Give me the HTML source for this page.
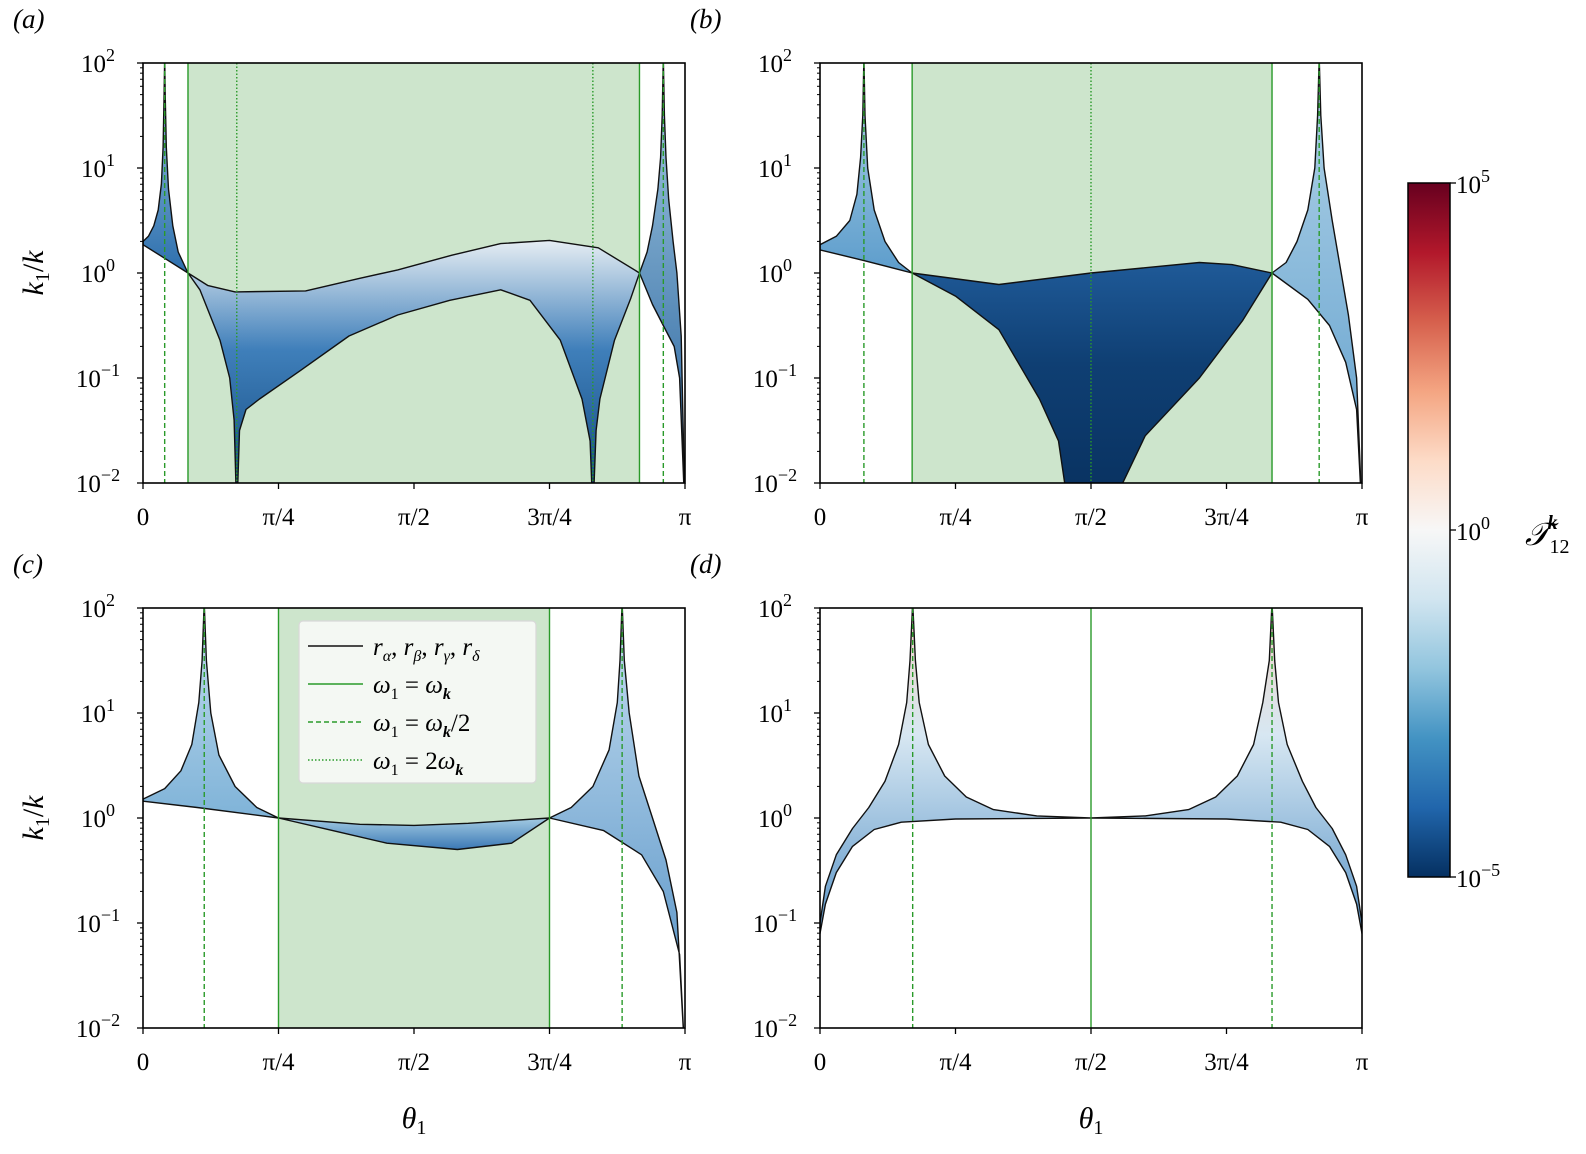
<!DOCTYPE html>
<html><head><meta charset="utf-8"><style>
body{margin:0;background:#fff;}
svg{display:block;font-family:"Liberation Serif",serif;}
</style></head><body>
<svg id="fig" width="1586" height="1154" viewBox="0 0 1586 1154" xmlns="http://www.w3.org/2000/svg">
<defs>
<linearGradient id="cbar" x1="0" y1="0" x2="0" y2="1">
<stop offset="0" stop-color="#67001f"/><stop offset="0.1" stop-color="#b2182b"/><stop offset="0.2" stop-color="#d6604d"/><stop offset="0.3" stop-color="#f4a582"/><stop offset="0.4" stop-color="#fddbc7"/><stop offset="0.5" stop-color="#f7f7f7"/><stop offset="0.6" stop-color="#d1e5f0"/><stop offset="0.7" stop-color="#92c5de"/><stop offset="0.8" stop-color="#4393c3"/><stop offset="0.9" stop-color="#2166ac"/><stop offset="1" stop-color="#053061"/>
</linearGradient>
</defs>
<g id="root"></g>
</svg>
<script>
// ---- data: theta in units of pi, values are log10(k1/k) ----
const xTickLabels = ["0","π/4","π/2","3π/4","π"];
const xTickVals = [0,0.25,0.5,0.75,1];
const yTickVals = [2,1,0,-1,-2];
const yTickLabels = ["2","1","0","−1","−2"];

const aLeftTu=[0,0.01,0.02,0.028,0.034,0.037,0.039,0.04,0.041,0.043,0.047,0.055,0.065,0.083];
const aLeftU=[0.3,0.35,0.45,0.6,0.85,1.2,1.7,2.05,1.7,1.2,0.8,0.45,0.2,0];
const aLeftTl=[0,0.04,0.083];
const aLeftL=[0.27,0.14,0];
const aMidTu=[0.083,0.12,0.17,0.3,0.4,0.47,0.57,0.66,0.75,0.84,0.916];
const aMidU=[0,-0.12,-0.18,-0.17,-0.05,0.03,0.17,0.28,0.31,0.24,0];
const aMidTl=[0.083,0.105,0.142,0.16,0.168,0.173,0.178,0.19,0.215,0.29,0.38,0.47,0.566,0.66,0.714,0.77,0.81,0.825,0.83,0.836,0.843,0.87,0.9,0.916];
const aMidL=[0,-0.16,-0.64,-1.0,-1.4,-2.3,-1.5,-1.3,-1.2,-0.93,-0.6,-0.4,-0.26,-0.16,-0.26,-0.64,-1.2,-1.6,-2.3,-1.5,-1.2,-0.64,-0.24,0];
const aRightTu=[0.916,0.93,0.94,0.95,0.955,0.958,0.96,0.962,0.965,0.97,0.978,0.985,0.993,1];
const aRightU=[0,0.2,0.45,0.8,1.1,1.5,2.05,1.5,1.1,0.7,0.3,0,-0.6,-2.3];
const aRightTl=[0.916,0.94,0.96,0.98,0.99,1];
const aRightL=[0,-0.3,-0.5,-0.7,-1.0,-2.3];

const bLeftTu=[0,0.03,0.055,0.068,0.075,0.079,0.081,0.083,0.088,0.1,0.12,0.145,0.17];
const bLeftU=[0.27,0.35,0.5,0.75,1.1,1.5,2.05,1.5,1.0,0.6,0.3,0.1,0];
const bLeftTl=[0,0.08,0.17];
const bLeftL=[0.22,0.12,0];
const bMidTu=[0.17,0.33,0.5,0.7,0.76,0.834];
const bMidU=[0,-0.11,0,0.1,0.08,0];
const bMidTl=[0.17,0.25,0.33,0.405,0.44,0.46,0.54,0.6,0.7,0.78,0.834];
const bMidL=[0,-0.22,-0.54,-1.2,-1.6,-2.3,-2.2,-1.55,-1.0,-0.45,0];
const bRightTu=[0.834,0.86,0.88,0.9,0.913,0.918,0.921,0.924,0.93,0.945,0.96,0.975,0.99,1];
const bRightU=[0,0.1,0.3,0.6,1.0,1.5,2.05,1.5,1.0,0.5,0.05,-0.4,-1.0,-2.3];
const bRightTl=[0.834,0.9,0.94,0.97,0.99,1];
const bRightL=[0,-0.25,-0.5,-0.85,-1.3,-2.3];

const cLeftTu=[0,0.04,0.07,0.09,0.103,0.109,0.113,0.117,0.125,0.14,0.17,0.21,0.25];
const cLeftU=[0.18,0.28,0.45,0.7,1.1,1.5,2.05,1.5,1.0,0.6,0.3,0.1,0];
const cLeftTl=[0,0.1,0.25];
const cLeftL=[0.16,0.1,0];
const cMidTu=[0.25,0.4,0.5,0.6,0.75];
const cMidU=[0,-0.06,-0.07,-0.05,0];
const cMidTl=[0.25,0.35,0.45,0.58,0.68,0.75];
const cMidL=[0,-0.12,-0.24,-0.3,-0.24,0];
const cRightTu=[0.75,0.79,0.83,0.86,0.875,0.88,0.884,0.888,0.897,0.915,0.94,0.965,0.985,1];
const cRightU=[0,0.1,0.3,0.65,1.1,1.5,2.05,1.5,1.0,0.4,0,-0.4,-0.9,-2.3];
const cRightTl=[0.75,0.85,0.92,0.96,0.99,1];
const cRightL=[0,-0.12,-0.35,-0.7,-1.3,-2.3];

const dTu=[0,0.01,0.03,0.06,0.09,0.12,0.145,0.16,0.166,0.171,0.176,0.183,0.2,0.23,0.27,0.32,0.4,0.5,0.6,0.68,0.73,0.77,0.8,0.817,0.829,0.834,0.839,0.846,0.862,0.89,0.915,0.945,0.97,0.99,1];
const dU=[-1.0,-0.65,-0.35,-0.1,0.1,0.35,0.7,1.1,1.5,2.05,1.5,1.1,0.7,0.4,0.2,0.08,0.02,0,0.02,0.08,0.2,0.4,0.7,1.1,1.5,2.05,1.5,1.1,0.7,0.35,0.1,-0.1,-0.35,-0.65,-1.0];
const dTl=[0,0.01,0.03,0.06,0.1,0.15,0.25,0.5,0.75,0.85,0.9,0.94,0.97,0.99,1];
const dL=[-1.1,-0.82,-0.52,-0.27,-0.11,-0.04,-0.01,0,-0.01,-0.04,-0.11,-0.27,-0.52,-0.82,-1.1];

const svgNS="http://www.w3.org/2000/svg";
const root=document.getElementById('root');
function mk(tag,attrs,parent){const e=document.createElementNS(svgNS,tag);for(const k in attrs)e.setAttribute(k,attrs[k]);(parent||root).appendChild(e);return e;}

const W=542,H=420;
const panels=[
 {id:'a',x0:143,y0:63,shade:[0.083,0.916],solid:[0.083,0.916],dashed:[0.04,0.96],dotted:[0.173,0.83],
  lobes:[[aLeftTu,aLeftU,aLeftTl,aLeftL,'#a3cae2','#2d6fae',null],[aMidTu,aMidU,aMidTl,aMidL,'#e6edf3','#0e4379','#3f7fba'],[aRightTu,aRightU,aRightTl,aRightL,'#a8cde3','#1d5a99',null]],ylab:true,xlab:false},
 {id:'b',x0:820,y0:63,shade:[0.17,0.834],solid:[0.17,0.834],dashed:[0.081,0.921],dotted:[0.5],
  lobes:[[bLeftTu,bLeftU,bLeftTl,bLeftL,'#b3d4e8','#5d9dcc',null],[bMidTu,bMidU,bMidTl,bMidL,'#1f5a98','#08305e','#0f3f73'],[bRightTu,bRightU,bRightTl,bRightL,'#b3d4e8','#5d9dcc',null]],ylab:false,xlab:false},
 {id:'c',x0:143,y0:608,shade:[0.25,0.75],solid:[0.25,0.75],dashed:[0.113,0.884],dotted:[],
  lobes:[[cLeftTu,cLeftU,cLeftTl,cLeftL,'#c5def0','#7fb3d8',null],[cMidTu,cMidU,cMidTl,cMidL,'#a3cbe3','#3a78b5',null],[cRightTu,cRightU,cRightTl,cRightL,'#c5def0','#4a8ac2',null]],ylab:true,xlab:true},
 {id:'d',x0:820,y0:608,shade:null,solid:[0.5],dashed:[0.171,0.834],dotted:[],
  lobes:[[dTu,dU,dTl,dL,'#f3d5c4','#5a95c8','#d7e7f2']],ylab:false,xlab:true}
];
const GREEN='#2a9a2a';
panels.forEach((p,pi)=>{
  const xs=t=>p.x0+t*W;
  const ys=v=>p.y0+(2-v)*H/4;
  const g=mk('g',{});
  
  
  const cp=mk('clipPath',{id:'clip'+p.id},g);
  mk('rect',{x:p.x0,y:p.y0,width:W,height:H},cp);
  if(p.shade){
    const r=mk('rect',{x:xs(p.shade[0]),y:p.y0,width:xs(p.shade[1])-xs(p.shade[0]),height:H,fill:'#cde5cc'},g);
    
    
  }
  const cg=mk('g',{'clip-path':'url(#clip'+p.id+')'},g);
  p.lobes.forEach((lb,li)=>{
    const [tu,u,tl,l,c1,c2,cm]=lb;
    const gid='gr'+p.id+li;
    const lg=mk('linearGradient',{id:gid,x1:0,y1:0,x2:0,y2:1},cg);
    mk('stop',{offset:0,'stop-color':c1},lg);
    if(cm){mk('stop',{offset:0.4,'stop-color':cm},lg);}
    mk('stop',{offset:1,'stop-color':c2},lg);
    let d='M'+tu.map((t,i)=>xs(t).toFixed(1)+','+ys(u[i]).toFixed(1)).join(' L');
    for(let i=tl.length-1;i>=0;i--) d+=' L'+xs(tl[i]).toFixed(1)+','+ys(l[i]).toFixed(1);
    d+='Z';
    const path=mk('path',{d:d,fill:'url(#'+gid+')',stroke:'#111','stroke-width':1.4,'stroke-linejoin':'round'},cg);
    
    
  });
  const lines=[[p.solid,'none'],[p.dashed,'5,3'],[p.dotted,'1.5,2']];
  lines.forEach(([arr,dash])=>{arr.forEach(t=>{
    const ln=mk('line',{x1:xs(t),x2:xs(t),y1:p.y0,y2:p.y0+H,stroke:GREEN,'stroke-width':1.4,'stroke-dasharray':dash},g);
    
    
  });});
  const fr=mk('rect',{x:p.x0,y:p.y0,width:W,height:H,fill:'none',stroke:'#000','stroke-width':1.6},g);
  
  
  xTickVals.forEach((t,i)=>{
    mk('line',{x1:xs(t),x2:xs(t),y1:p.y0+H,y2:p.y0+H+6,stroke:'#000','stroke-width':1.3},g);
    const tx=mk('text',{x:xs(t),y:p.y0+H+42,'font-size':25,'text-anchor':'middle'},g);
    tx.textContent=xTickLabels[i];
    
    
  });
  yTickVals.forEach((v,i)=>{
    mk('line',{x1:p.x0-6,x2:p.x0,y1:ys(v),y2:ys(v),stroke:'#000','stroke-width':1.3},g);
    for(let m=2;m<10&&v>-2;m++){const yy=ys(v-1+Math.log10(m));mk('line',{x1:p.x0-3,x2:p.x0,y1:yy,y2:yy,stroke:'#000','stroke-width':1},g);}
    const tx=mk('text',{x:p.x0-45,y:ys(v)+9,'font-size':25,'text-anchor':'middle'},g);
    
    
    tx.innerHTML='10<tspan dy="-11" font-size="18">'+yTickLabels[i]+'</tspan>';
  });
  const pl=mk('text',{x:p.x0-130,y:p.y0-35,'font-size':27,'font-style':'italic'},g);
  pl.textContent='('+p.id+')';
  
  
  if(p.ylab){
    const yl=mk('text',{transform:'translate('+(p.x0-100)+','+(p.y0+H/2)+') rotate(-90)','font-size':30,'text-anchor':'middle'},g);
    yl.innerHTML='<tspan font-style="italic">k</tspan><tspan font-size="20" dy="6">1</tspan><tspan dy="-6">/</tspan><tspan font-style="italic">k</tspan>';
    
    
  }
  if(p.xlab){
    const xl=mk('text',{x:p.x0+W/2,y:p.y0+H+100,'font-size':30,'text-anchor':'middle'},g);
    xl.innerHTML='<tspan font-style="italic">θ</tspan><tspan font-size="20" dy="6">1</tspan>';
    
    
  }
});

// legend
const lgG=mk('g',{});


mk('rect',{x:299,y:621,width:237,height:162,rx:4,fill:'#f4f8f3',stroke:'#d8d8d8','stroke-width':1.2},lgG);
const legItems=[['#111','none','<tspan font-style="italic">r</tspan><tspan font-size="16" dy="6" font-style="italic">α</tspan><tspan dy="-6">, </tspan><tspan font-style="italic">r</tspan><tspan font-size="16" dy="6" font-style="italic">β</tspan><tspan dy="-6">, </tspan><tspan font-style="italic">r</tspan><tspan font-size="16" dy="6" font-style="italic">γ</tspan><tspan dy="-6">, </tspan><tspan font-style="italic">r</tspan><tspan font-size="16" dy="6" font-style="italic">δ</tspan>'],
 [GREEN,'none','<tspan font-style="italic">ω</tspan><tspan font-size="16" dy="6">1</tspan><tspan dy="-6"> = </tspan><tspan font-style="italic">ω</tspan><tspan font-size="16" dy="6" font-weight="bold" font-style="italic">k</tspan>'],
 [GREEN,'5,3','<tspan font-style="italic">ω</tspan><tspan font-size="16" dy="6">1</tspan><tspan dy="-6"> = </tspan><tspan font-style="italic">ω</tspan><tspan font-size="16" dy="6" font-weight="bold" font-style="italic">k</tspan><tspan dy="-6">/2</tspan>'],
 [GREEN,'1.5,2','<tspan font-style="italic">ω</tspan><tspan font-size="16" dy="6">1</tspan><tspan dy="-6"> = 2</tspan><tspan font-style="italic">ω</tspan><tspan font-size="16" dy="6" font-weight="bold" font-style="italic">k</tspan>']];
legItems.forEach((it,i)=>{
  const y=646+i*38;
  const ln=mk('line',{x1:308,x2:363,y1:y,y2:y,stroke:it[0],'stroke-width':1.5,'stroke-dasharray':it[1]},lgG);
  
  
  const tx=mk('text',{x:373,y:y+9,'font-size':25},lgG);
  tx.innerHTML=it[2];
  
  
});

// colorbar
const cbG=mk('g',{});


mk('rect',{x:1408,y:183,width:42,height:694,fill:'url(#cbar)',stroke:'#000','stroke-width':1.5},cbG);
const cbTicks=[[183,'5'],[530,'0'],[877,'−5']];
cbTicks.forEach(([y,l])=>{
  mk('line',{x1:1450,x2:1456,y1:y,y2:y,stroke:'#000','stroke-width':1.3},cbG);
  const tx=mk('text',{x:1456,y:y+10,'font-size':25},cbG);
  tx.innerHTML='10<tspan dy="-11" font-size="18">'+l+'</tspan>';
  
  
});
const ct=mk('text',{x:1525,y:545,'font-size':32},cbG);
ct.innerHTML='<tspan font-style="italic">𝒯</tspan><tspan font-size="20" dy="8">12</tspan><tspan font-size="20" dx="-22" dy="-24" font-weight="bold" font-style="italic">k</tspan>';


</script>
</body></html>
